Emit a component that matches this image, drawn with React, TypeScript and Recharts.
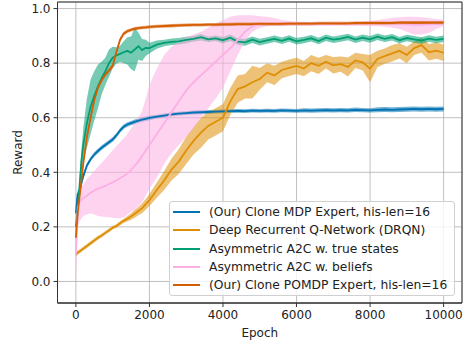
import React from "react";
import {
  ComposedChart,
  Line,
  Area,
  XAxis,
  YAxis,
  CartesianGrid,
  Legend,
  ReferenceArea,
} from "recharts";

// epochs (x axis)
const epochs = [
  0, 50, 100, 150, 200, 300, 400, 500, 600, 700, 800, 900,
  1000, 1100, 1200, 1300, 1400, 1500, 1600, 1700, 1800, 1900, 2000,
  2200, 2400, 2600, 2800, 3000, 3200, 3400, 3600, 3800, 4000,
  4200, 4400, 4600, 4800, 5000, 5200, 5400, 5600, 5800, 6000,
  6200, 6400, 6600, 6800, 7000, 7200, 7400, 7600, 7800, 8000,
  8200, 8400, 8600, 8800, 9000, 9200, 9400, 9600, 9800, 10000,
];

const xTicks = [0, 2000, 4000, 6000, 8000, 10000];
const yTicks = [0, 0.2, 0.4, 0.6, 0.8, 1.0];

// (Our) Clone MDP Expert
const mdpMean = [
  0.25, 0.32, 0.33, 0.36, 0.385, 0.425, 0.448, 0.465, 0.478, 0.49, 0.5, 0.51,
  0.52, 0.535, 0.553, 0.567, 0.575, 0.58, 0.585, 0.589, 0.593, 0.596, 0.599,
  0.604, 0.608, 0.612, 0.615, 0.617, 0.619, 0.62, 0.621, 0.622, 0.623,
  0.624, 0.625, 0.624, 0.626, 0.625, 0.626, 0.625, 0.627, 0.626, 0.625,
  0.627, 0.626, 0.627, 0.628, 0.627, 0.628, 0.627, 0.629, 0.628, 0.627,
  0.629, 0.63, 0.629, 0.63, 0.631, 0.632, 0.631, 0.632, 0.631, 0.632,
];
const mdpSpread = [
  0.04, 0.015, 0.012, 0.01, 0.01, 0.008, 0.008, 0.008, 0.008, 0.008, 0.008, 0.008,
  0.008, 0.008, 0.008, 0.008, 0.008, 0.008, 0.008, 0.008, 0.008, 0.008, 0.008,
  0.007, 0.007, 0.007, 0.007, 0.007, 0.007, 0.007, 0.007, 0.007, 0.007,
  0.007, 0.007, 0.007, 0.007, 0.007, 0.007, 0.007, 0.007, 0.007, 0.007,
  0.008, 0.008, 0.008, 0.008, 0.008, 0.008, 0.008, 0.008, 0.008, 0.008,
  0.009, 0.009, 0.009, 0.009, 0.009, 0.009, 0.009, 0.009, 0.009, 0.009,
];

// Deep Recurrent Q-Network (DRQN)
const drqnMean = [
  0.1, 0.105, 0.11, 0.115, 0.12, 0.13, 0.14, 0.15, 0.16, 0.168, 0.178, 0.187,
  0.197, 0.203, 0.213, 0.222, 0.23, 0.238, 0.248, 0.258, 0.268, 0.283, 0.298,
  0.335, 0.37, 0.41, 0.44, 0.48, 0.515, 0.545, 0.57, 0.585, 0.6,
  0.66, 0.705, 0.715, 0.73, 0.742, 0.765, 0.755, 0.775, 0.783, 0.79,
  0.78, 0.8, 0.79, 0.805, 0.792, 0.796, 0.786, 0.81, 0.803, 0.78,
  0.815, 0.826, 0.836, 0.845, 0.83, 0.855, 0.866, 0.84, 0.846, 0.838,
];
const drqnSpread = [
  0.008, 0.008, 0.007, 0.007, 0.007, 0.007, 0.007, 0.007, 0.007, 0.007, 0.007, 0.007,
  0.007, 0.007, 0.008, 0.008, 0.01, 0.012, 0.015, 0.015, 0.018, 0.02, 0.022,
  0.028, 0.035, 0.04, 0.045, 0.05, 0.05, 0.055, 0.05, 0.05, 0.05,
  0.05, 0.05, 0.045, 0.06, 0.04, 0.035, 0.035, 0.03, 0.03, 0.03,
  0.028, 0.03, 0.03, 0.025, 0.03, 0.028, 0.035, 0.028, 0.03, 0.05,
  0.03, 0.028, 0.03, 0.028, 0.03, 0.025, 0.028, 0.03, 0.03, 0.03,
];

// Asymmetric A2C w. true states
const trueMean = [
  0.2, 0.26, 0.35, 0.44, 0.5, 0.58, 0.64, 0.68, 0.715, 0.745, 0.77, 0.8,
  0.82, 0.828, 0.834, 0.84, 0.845, 0.838, 0.85, 0.862, 0.848, 0.856, 0.855,
  0.868, 0.874, 0.878, 0.88, 0.885, 0.889, 0.895, 0.887, 0.891, 0.884,
  0.893, 0.879, 0.876, 0.886, 0.877, 0.883, 0.889, 0.882, 0.89, 0.88,
  0.885, 0.891, 0.881, 0.893, 0.886, 0.89, 0.896, 0.886, 0.893, 0.887,
  0.897, 0.889, 0.895, 0.884, 0.892, 0.887, 0.883, 0.89, 0.885, 0.889,
];
const trueSpread = [
  0.02, 0.03, 0.03, 0.04, 0.06, 0.09, 0.1, 0.09, 0.08, 0.06, 0.05, 0.05,
  0.04, 0.03, 0.03, 0.04, 0.05, 0.06, 0.08, 0.05, 0.04, 0.03, 0.02,
  0.015, 0.012, 0.012, 0.012, 0.012, 0.01, 0.012, 0.01, 0.01, 0.012,
  0.012, 0.012, 0.012, 0.012, 0.012, 0.012, 0.012, 0.012, 0.012, 0.012,
  0.012, 0.012, 0.012, 0.012, 0.012, 0.012, 0.012, 0.012, 0.012, 0.012,
  0.012, 0.012, 0.012, 0.012, 0.012, 0.012, 0.012, 0.012, 0.012, 0.012,
];

// Asymmetric A2C w. beliefs
const beliefMean = [
  0.1, 0.27, 0.29, 0.3, 0.305, 0.315, 0.325, 0.333, 0.34, 0.345, 0.35, 0.357,
  0.363, 0.37, 0.378, 0.386, 0.395, 0.408, 0.424, 0.44, 0.46, 0.48, 0.5,
  0.54, 0.58, 0.62, 0.66, 0.7, 0.73, 0.755, 0.78, 0.805, 0.83,
  0.855, 0.885, 0.915, 0.935, 0.944, 0.946, 0.946, 0.945, 0.946, 0.946,
  0.945, 0.946, 0.946, 0.945, 0.946, 0.946, 0.945, 0.946, 0.946, 0.945,
  0.946, 0.946, 0.945, 0.944, 0.942, 0.94, 0.94, 0.942, 0.944, 0.945,
];
const beliefLow = [
  -0.03, 0.2, 0.22, 0.23, 0.24, 0.245, 0.25, 0.245, 0.24, 0.238, 0.236, 0.235,
  0.233, 0.232, 0.232, 0.235, 0.245, 0.255, 0.265, 0.275, 0.29, 0.315, 0.34,
  0.38, 0.43, 0.47, 0.5, 0.53, 0.56, 0.6, 0.635, 0.67, 0.71,
  0.77, 0.83, 0.88, 0.915, 0.93, 0.935, 0.936, 0.935, 0.937, 0.937,
  0.936, 0.937, 0.937, 0.936, 0.937, 0.937, 0.936, 0.937, 0.936, 0.936,
  0.935, 0.933, 0.93, 0.925, 0.915, 0.905, 0.905, 0.91, 0.925, 0.935,
];
const beliefHigh = [
  0.16, 0.31, 0.33, 0.345, 0.355, 0.375, 0.39, 0.405, 0.42, 0.435, 0.45, 0.465,
  0.48, 0.495, 0.51, 0.525, 0.54, 0.56, 0.58, 0.6, 0.625, 0.67, 0.72,
  0.78, 0.83, 0.86, 0.88, 0.895, 0.905, 0.915, 0.93, 0.945, 0.958,
  0.97, 0.975, 0.975, 0.975, 0.972, 0.97, 0.965, 0.958, 0.955, 0.952,
  0.952, 0.951, 0.952, 0.951, 0.952, 0.952, 0.951, 0.952, 0.953, 0.955,
  0.958, 0.962, 0.966, 0.968, 0.97, 0.97, 0.968, 0.965, 0.962, 0.96,
];

// (Our) Clone POMDP Expert
const pomdpMean = [
  0.16, 0.25, 0.31, 0.37, 0.43, 0.53, 0.6, 0.665, 0.71, 0.738, 0.758, 0.773,
  0.79, 0.84, 0.885, 0.908, 0.917, 0.922, 0.926, 0.928, 0.93, 0.931, 0.933,
  0.935, 0.936, 0.937, 0.938, 0.939, 0.94, 0.94, 0.941, 0.941, 0.942,
  0.942, 0.943, 0.943, 0.943, 0.944, 0.944, 0.944, 0.944, 0.945, 0.945,
  0.945, 0.945, 0.946, 0.946, 0.946, 0.946, 0.946, 0.947, 0.947, 0.947,
  0.947, 0.947, 0.947, 0.948, 0.948, 0.948, 0.948, 0.948, 0.948, 0.948,
];
const pomdpSpread = [
  0.01, 0.01, 0.01, 0.01, 0.01, 0.01, 0.01, 0.01, 0.008, 0.008, 0.008, 0.008,
  0.008, 0.008, 0.008, 0.007, 0.007, 0.006, 0.006, 0.006, 0.006, 0.006, 0.006,
  0.006, 0.006, 0.006, 0.006, 0.006, 0.006, 0.006, 0.006, 0.006, 0.006,
  0.006, 0.006, 0.006, 0.006, 0.006, 0.006, 0.006, 0.006, 0.006, 0.006,
  0.006, 0.006, 0.006, 0.006, 0.006, 0.006, 0.006, 0.006, 0.006, 0.006,
  0.006, 0.006, 0.006, 0.006, 0.006, 0.006, 0.006, 0.006, 0.006, 0.006,
];

const series = [
  { key: "mdp", name: "(Our) Clone MDP Expert, his-len=16", color: "#0173b2" },
  { key: "drqn", name: "Deep Recurrent Q-Network (DRQN)", color: "#de8f05" },
  { key: "truth", name: "Asymmetric A2C w. true states", color: "#029e73" },
  { key: "belief", name: "Asymmetric A2C w. beliefs", color: "#fbafe4" },
  { key: "pomdp", name: "(Our) Clone POMDP Expert, his-len=16", color: "#d55e00" },
];

const data = epochs.map((epoch, i) => ({
  epoch,
  mdp: mdpMean[i],
  mdpBand: [mdpMean[i] - mdpSpread[i], mdpMean[i] + mdpSpread[i]],
  drqn: drqnMean[i],
  drqnBand: [drqnMean[i] - drqnSpread[i], drqnMean[i] + drqnSpread[i]],
  truth: trueMean[i],
  truthBand: [trueMean[i] - trueSpread[i], trueMean[i] + trueSpread[i]],
  belief: beliefMean[i],
  beliefBand: [beliefLow[i], beliefHigh[i]],
  pomdp: pomdpMean[i],
  pomdpBand: [pomdpMean[i] - pomdpSpread[i], pomdpMean[i] + pomdpSpread[i]],
}));

const FONT = "'DejaVu Sans', sans-serif";
const X_DOMAIN: [number, number] = [-500, 10500];
const Y_DOMAIN: [number, number] = [-0.079, 1.024];

function LegendBox() {
  return (
    <div
      style={{
        width: 286,
        boxSizing: "border-box",
        border: "1px solid #d0d0d0",
        borderRadius: 3,
        background: "rgba(255,255,255,0.8)",
        padding: "1px 0 1px 3px",
        fontFamily: FONT,
        fontSize: 12.3,
        color: "#222",
      }}
    >
      {series.map((s) => (
        <div
          key={s.key}
          style={{ display: "flex", alignItems: "center", height: 18.3 }}
        >
          <span
            style={{
              display: "inline-block",
              width: 27,
              height: 2,
              background: s.color,
              marginRight: 9,
            }}
          />
          <span style={{ whiteSpace: "nowrap" }}>{s.name}</span>
        </div>
      ))}
    </div>
  );
}

export default function App() {
  const tickStyle = { fontSize: 12, fill: "#222", fontFamily: FONT };
  return (
    <div style={{ position: "absolute", left: 0, top: 0, width: 466, height: 342 }}>
      <ComposedChart
        width={466}
        height={342}
        data={data}
        margin={{ top: 2, right: 4, bottom: 0, left: 0 }}
      >
        <CartesianGrid stroke="#b0b0b0" strokeWidth={0.8} />
        <XAxis
          dataKey="epoch"
          type="number"
          domain={X_DOMAIN}
          ticks={xTicks}
          allowDataOverflow
          height={39}
          tickSize={4}
          tickMargin={3}
          tick={tickStyle}
          stroke="#333"
          label={{
            value: "Epoch",
            position: "insideBottom",
            offset: 5,
            style: { fontSize: 12, fill: "#222", fontFamily: FONT },
          }}
        />
        <YAxis
          type="number"
          domain={Y_DOMAIN}
          ticks={yTicks}
          allowDataOverflow
          width={57.5}
          tickSize={4}
          tickMargin={3}
          tick={tickStyle}
          tickFormatter={(v: number) => v.toFixed(1)}
          stroke="#333"
          label={{
            value: "Reward",
            angle: -90,
            position: "insideLeft",
            offset: 18,
            style: { fontSize: 12, fill: "#222", fontFamily: FONT, textAnchor: "middle" },
          }}
        />
        {series.map((s) => (
          <Area
            key={s.key + "Band"}
            dataKey={s.key + "Band"}
            type="linear"
            stroke="none"
            fill={s.color}
            fillOpacity={0.55}
            legendType="none"
            isAnimationActive={false}
          />
        ))}
        {series.map((s) => (
          <Line
            key={s.key}
            dataKey={s.key}
            name={s.name}
            type="linear"
            stroke={s.color}
            strokeWidth={1.8}
            dot={false}
            isAnimationActive={false}
          />
        ))}
        <ReferenceArea
          x1={X_DOMAIN[0]}
          x2={X_DOMAIN[1]}
          y1={Y_DOMAIN[0]}
          y2={Y_DOMAIN[1]}
          fill="none"
          stroke="#333"
          strokeWidth={1}
        />
        <Legend
          layout="vertical"
          align="center"
          verticalAlign="middle"
          wrapperStyle={{ left: 169, top: 201, width: "auto" }}
          content={() => <LegendBox />}
        />
      </ComposedChart>
    </div>
  );
}
